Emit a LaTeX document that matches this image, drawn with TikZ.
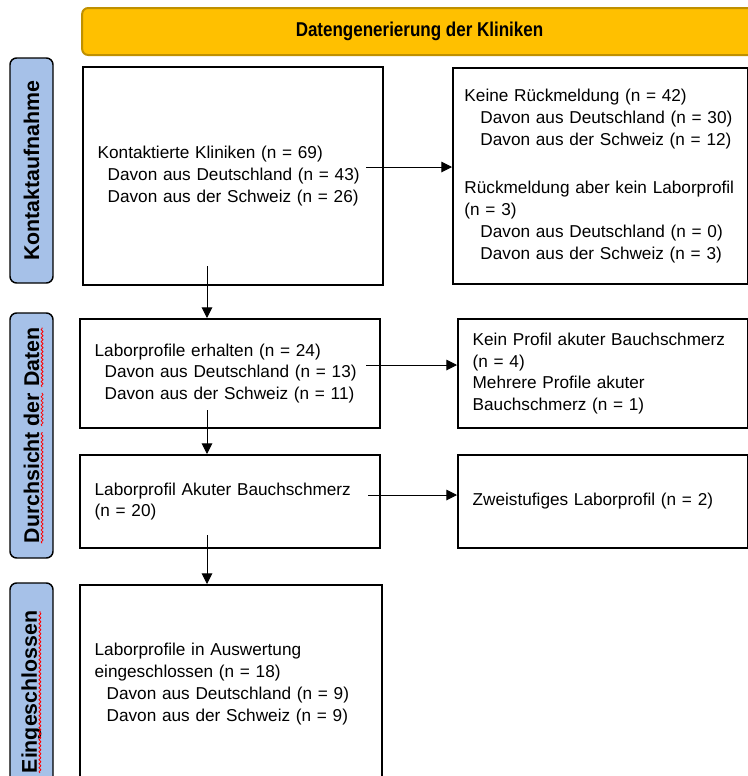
\documentclass[tikz,border=0pt]{standalone}
\usepackage{fontspec}
\setmainfont{Liberation Sans}
\newfontfamily\schmal[FakeStretch=0.85]{Liberation Sans}
\usetikzlibrary{arrows.meta,decorations.pathmorphing}
\definecolor{balken}{HTML}{FFC000}
\definecolor{balkenrand}{HTML}{BF9000}
\definecolor{phasenblau}{HTML}{A6C1E8}
\newcommand{\einr}[1][7.5pt]{\hspace*{#1}}
\begin{document}
\begin{tikzpicture}[x=0.75pt,y=-0.75pt,
    box/.style={draw, line width=1.5pt, anchor=north west, align=left,
      inner xsep=11pt, text width=#1, font=\fontsize{12.9}{16.4}\selectfont},
    phase/.style={draw, fill=phasenblau, line width=1.1pt, rounded corners=5pt,
      rotate=90, minimum height=32.25pt, font=\bfseries\fontsize{16}{18}\selectfont},
    welle/.style={red, line width=0.6pt, decorate,
      decoration={snake, segment length=3pt, amplitude=0.7pt}},
    pfeil/.style={-{Triangle[length=8pt,width=8pt]}, line width=0.75pt}]
      \clip (0,0) rectangle (748,776);
      \node[draw=balkenrand, fill=balken, line width=1.5pt, rounded corners=4.5pt,
        minimum width=506pt, minimum height=35.25pt,
        font=\schmal\bfseries\fontsize{15}{18}\selectfont]
        (titel) at (419.5,31.5) {Datengenerierung der Kliniken};
      \node[phase, minimum width=168.75pt] (p1) at (31.5,170.5) {Kontaktaufnahme};
      \node[phase, minimum width=183.75pt] (p2) at (31.5,435.5) {Durchsicht der Daten};
      \node[phase, minimum width=163.5pt] (p3) at (31.5,692) {Eingeschlossen};
      \draw[welle] ([shift={(3,107.8)}]p2.base) -- ([shift={(3,-3.5)}]p2.base);
      \draw[welle] ([shift={(3,-9.5)}]p2.base) -- ([shift={(3,-42.7)}]p2.base);
      \draw[welle] ([shift={(3,-48.6)}]p2.base) -- ([shift={(3,-107.8)}]p2.base);
      \draw[welle] ([shift={(3,81)}]p3.base) -- ([shift={(3,-81)}]p3.base);
      \node[box=203pt, minimum height=163.5pt] (kontakt) at (82,66)
        {Kontaktierte Kliniken (n = 69)\\
         \einr Davon aus Deutschland (n = 43)\\
         \einr Davon aus der Schweiz (n = 26)};
      \node[box=204pt, inner xsep=8.6pt, minimum height=162pt] (keine) at (452,67)
        {Keine Rückmeldung (n = 42)\\
         \einr[12pt]Davon aus Deutschland (n = 30)\\
         \einr[12pt]Davon aus der Schweiz (n = 12)\\[20pt]
         Rückmeldung aber kein Laborprofil\\
         (n = 3)\\
         \einr[12pt]Davon aus Deutschland (n = 0)\\
         \einr[12pt]Davon aus der Schweiz (n = 3)};
      \node[box=203pt, minimum height=81.75pt] (erhalten) at (79,318)
        {Laborprofile erhalten (n = 24)\\
         \einr Davon aus Deutschland (n = 13)\\
         \einr Davon aus der Schweiz (n = 11)};
      \node[box=195.5pt, minimum height=81.75pt] (keinprofil) at (457,318)
        {Kein Profil akuter Bauchschmerz\\
         (n = 4)\\
         Mehrere Profile akuter\\
         Bauchschmerz (n = 1)};
      \node[box=203pt, minimum height=69.75pt] (akut) at (79,454)
        {Laborprofil Akuter Bauchschmerz\\
         (n = 20)};
      \node[box=195.5pt, minimum height=69.75pt] (zweistufig) at (457,454)
        {Zweistufiges Laborprofil (n = 2)};
      \node[box=204.5pt, minimum height=148.5pt] (auswertung) at (79,584)
        {Laborprofile in Auswertung\\
         eingeschlossen (n = 18)\\
         \einr[9pt]Davon aus Deutschland (n = 9)\\
         \einr[9pt]Davon aus der Schweiz (n = 9)};
      \coordinate (a1) at (366,167);
      \coordinate (a2) at (207,266);
      \coordinate (a3) at (366,365);
      \coordinate (a4) at (207,410);
      \coordinate (a5) at (368,495);
      \coordinate (a6) at (207,535);
      \begin{scope}[pfeil]
        \draw (a1) to (a1 -| keine.west);
        \draw (a2) to (a2 |- erhalten.north);
        \draw (a3) to (a3 -| keinprofil.west);
        \draw (a4) to (a4 |- akut.north);
        \draw (a5) to (a5 -| zweistufig.west);
        \draw (a6) to (a6 |- auswertung.north);
      \end{scope}
    \end{tikzpicture}
\end{document}
